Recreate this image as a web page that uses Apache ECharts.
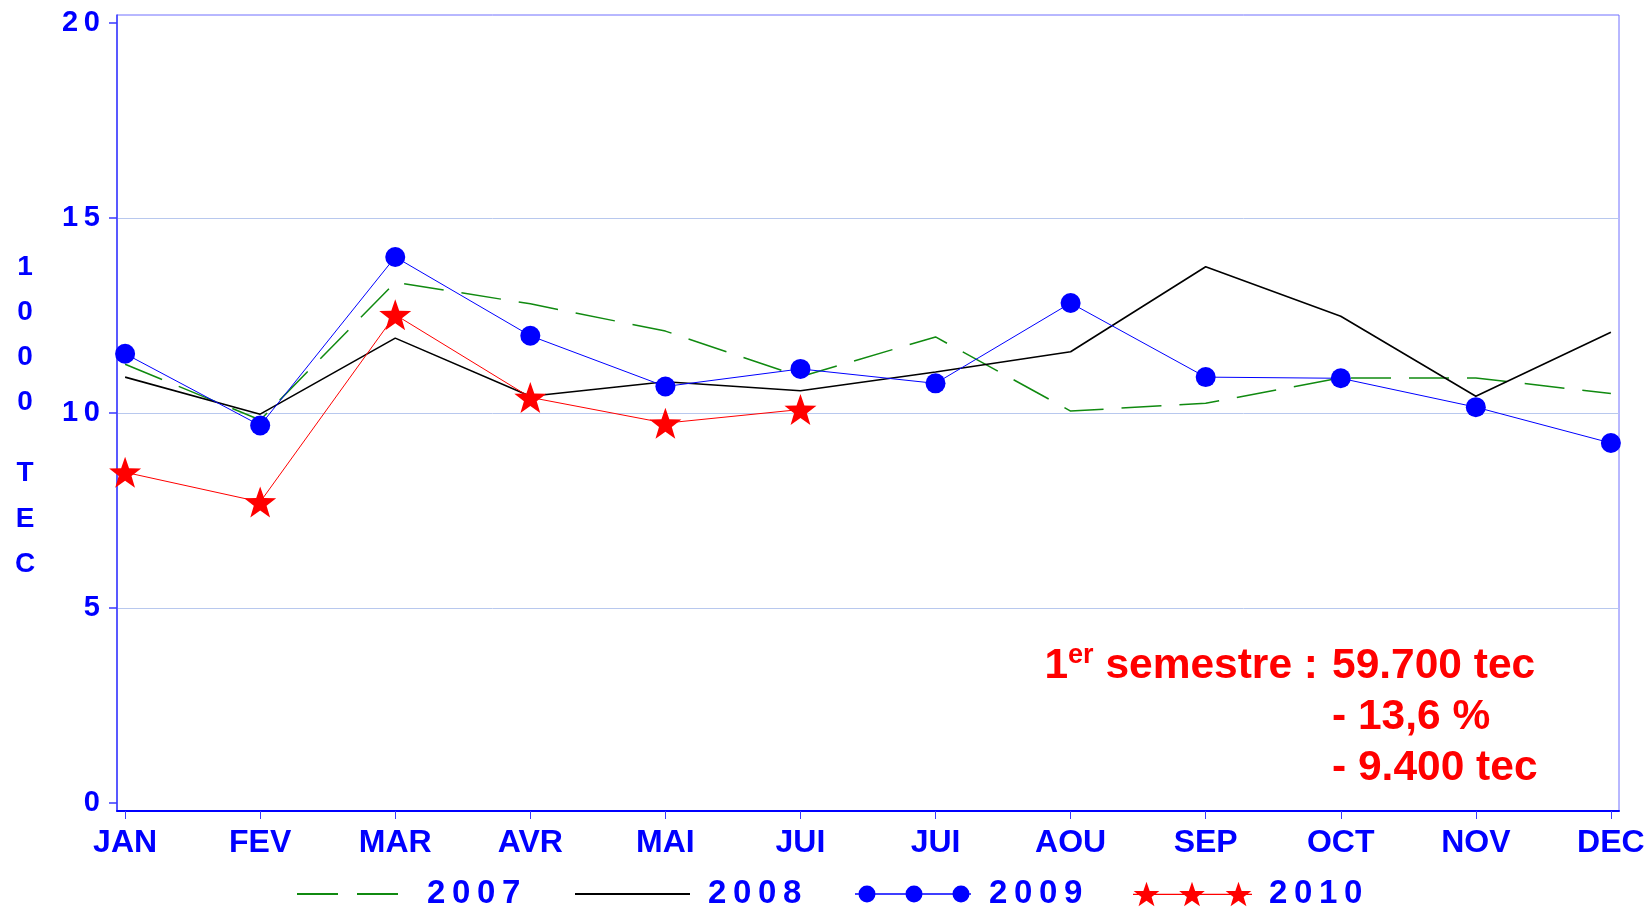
<!DOCTYPE html>
<html>
<head>
<meta charset="utf-8">
<script src="https://cdn.jsdelivr.net/npm/echarts@6/dist/echarts.min.js"></script>
<style>
  html, body { margin: 0; padding: 0; background: #fff; }
  #chart { width: 1652px; height: 907px; }
</style>
</head>
<body>
<div id="chart"></div>
<script>
// month labels and tick values
const months = ["JAN", "FEV", "MAR", "AVR", "MAI", "JUI", "JUI", "AOU", "SEP", "OCT", "NOV", "DEC"];
const xTicks = [0, 1, 2, 3, 4, 5, 6, 7, 8, 9, 10, 11];
const yTicks = [0, 5, 10, 15, 20];

// monthly values, in 1000 tec
const v2007 = [11.25, 9.82, 13.35, 12.8, 12.1, 10.93, 11.95, 10.05, 10.25, 10.9, 10.9, 10.5];
const v2008 = [10.92, 9.97, 11.92, 10.43, 10.8, 10.57, 11.05, 11.57, 13.75, 12.48, 10.43, 12.07];
const v2009 = [11.52, 9.68, 14.0, 11.98, 10.68, 11.13, 10.76, 12.82, 10.92, 10.89, 10.15, 9.23];
const v2010 = [8.48, 7.72, 12.52, 10.4, 9.74, 10.09];

const FONT = '"Liberation Sans", Arial, Helvetica, sans-serif';
const BLUE = "#0000ff";
const RED = "#ff0000";
const GREEN = "#108a10";

// the original spaces its digits out a little
const spaced = (s) => String(s).split("").join("\u2009");

// 5 point star as svg path
function starPath(cx, cy, R, r) {
  const pts = [];
  for (let i = 0; i < 10; i++) {
    const a = -Math.PI / 2 + (i * Math.PI) / 5;
    const rad = i % 2 === 0 ? R : r;
    pts.push((cx + rad * Math.cos(a)).toFixed(2) + "," + (cy + rad * Math.sin(a)).toFixed(2));
  }
  return "M" + pts.join(" L") + " Z";
}

function circlePath(cx, cy, r) {
  return `M${cx - r},${cy} A${r},${r} 0 1 1 ${cx + r},${cy} A${r},${r} 0 1 1 ${cx - r},${cy} Z`;
}

function barPath(x0, x1, y, h) {
  return `M${x0},${y} H${x1} V${y + h} H${x0} Z`;
}

// legend icons
const icon2007 = "path://" + barPath(0, 41, 0, 1.8) + " " + barPath(60, 101, 0, 1.8);
const icon2008 = "path://" + barPath(0, 115, 0, 2);
const icon2009 = "path://" + barPath(0, 116, 8, 1.3) + " " +
  [12, 59, 106].map((c) => circlePath(c, 8.65, 8.5)).join(" ");
const icon2010 = "path://" + barPath(0, 119, 12, 1.2) + " " +
  [13.5, 59, 105.5].map((c) => starPath(c, 13.5, 13.5, 5.4)).join(" ");

const toPoints = (arr) => arr.map((v, i) => [i, v]);

function legendFor(name, icon, left, width, pad) {
  return {
    data: [{ name: name, icon: icon }],
    left: left,
    top: 877,
    padding: 0,
    itemWidth: width,
    itemHeight: 30,
    selectedMode: false,
    itemStyle: { borderWidth: 0 },
    formatter: spaced,
    textStyle: {
      color: BLUE,
      fontSize: 33,
      fontWeight: "bold",
      fontFamily: FONT,
      lineHeight: 34,
      padding: [0, 0, 0, pad],
    },
  };
}

const chart = echarts.init(document.getElementById("chart"));

const option = {
  animation: false,
  backgroundColor: "#fff",
  grid: {
    left: 117,
    right: 33,
    top: 15,
    bottom: 96,
    show: true,
    borderColor: "#7070ff",
    borderWidth: 1,
  },
  xAxis: {
    type: "value",
    min: -0.06,
    max: 11.06,
    axisLine: { show: true, onZero: false, lineStyle: { color: BLUE, width: 2 } },
    axisTick: { show: true, length: 8, customValues: xTicks, lineStyle: { color: "#3a3aff", width: 1 } },
    axisLabel: {
      customValues: xTicks,
      formatter: (v) => months[v],
      margin: 16,
      color: BLUE,
      fontSize: 32,
      fontWeight: "bold",
      fontFamily: FONT,
    },
    splitLine: { show: false },
  },
  yAxis: {
    type: "value",
    min: -0.205,
    max: 20.205,
    axisLine: { show: true, onZero: false, lineStyle: { color: "#3a3aff", width: 1.5 } },
    axisTick: { show: true, length: 8, customValues: yTicks, lineStyle: { color: "#3a3aff", width: 1.5 } },
    axisLabel: {
      customValues: yTicks,
      formatter: spaced,
      margin: 17,
      color: BLUE,
      fontSize: 29,
      fontWeight: "bold",
      fontFamily: FONT,
    },
    splitLine: {
      show: true,
      showMinLine: false,
      showMaxLine: false,
      lineStyle: { color: "#b8c8ee", width: 1 },
    },
  },
  legend: [
    legendFor("2007", icon2007, 297, 101, 24),
    legendFor("2008", icon2008, 575, 115, 13),
    legendFor("2009", icon2009, 855, 116, 13),
    legendFor("2010", icon2010, 1133, 119, 12),
  ],
  series: [
    {
      name: "2007",
      type: "line",
      data: toPoints(v2007),
      symbol: "none",
      itemStyle: { color: GREEN },
      lineStyle: { color: GREEN, width: 1.5, type: [40, 18] },
    },
    {
      name: "2008",
      type: "line",
      data: toPoints(v2008),
      symbol: "none",
      itemStyle: { color: "#000" },
      lineStyle: { color: "#000", width: 1.6 },
    },
    {
      name: "2009",
      type: "line",
      data: toPoints(v2009),
      symbol: "circle",
      symbolSize: 20,
      itemStyle: { color: BLUE },
      lineStyle: { color: BLUE, width: 1 },
    },
    {
      name: "2010",
      type: "line",
      data: toPoints(v2010),
      symbol: "path://" + starPath(50, 50, 50, 20),
      symbolSize: [32, 31],
      itemStyle: { color: RED },
      lineStyle: { color: RED, width: 1 },
    },
  ],
  graphic: [
    // vertical axis title
    {
      type: "text",
      style: {
        text: "1\n0\n0\n0",
        x: 25, y: 245,
        textAlign: "center",
        textVerticalAlign: "top",
        fontSize: 28, fontWeight: "bold", fontFamily: FONT,
        lineHeight: 45,
        fill: BLUE,
      },
    },
    {
      type: "text",
      style: {
        text: "T\nE\nC",
        x: 25, y: 451,
        textAlign: "center",
        textVerticalAlign: "top",
        fontSize: 28, fontWeight: "bold", fontFamily: FONT,
        lineHeight: 45.5,
        fill: BLUE,
      },
    },
    // annotation
    {
      type: "text",
      style: {
        text: "{n|1}{s|er}{n| semestre :}",
        x: 1318, y: 666,
        textAlign: "right",
        textVerticalAlign: "middle",
        rich: {
          n: { fontSize: 42.5, fontWeight: "bold", fontFamily: FONT, fill: RED, lineHeight: 48 },
          s: { fontSize: 27, fontWeight: "bold", fontFamily: FONT, fill: RED, lineHeight: 28, verticalAlign: "top" },
        },
      },
    },
    {
      type: "text",
      style: {
        text: "59.700 tec",
        x: 1332, y: 666,
        textVerticalAlign: "middle",
        fontSize: 42.5, fontWeight: "bold", fontFamily: FONT, fill: RED,
      },
    },
    {
      type: "text",
      style: {
        text: "- 13,6 %",
        x: 1332, y: 717,
        textVerticalAlign: "middle",
        fontSize: 42.5, fontWeight: "bold", fontFamily: FONT, fill: RED,
      },
    },
    {
      type: "text",
      style: {
        text: "- 9.400 tec",
        x: 1332, y: 768,
        textVerticalAlign: "middle",
        fontSize: 42.5, fontWeight: "bold", fontFamily: FONT, fill: RED,
      },
    },
  ],
};

chart.setOption(option);
</script>
</body>
</html>
